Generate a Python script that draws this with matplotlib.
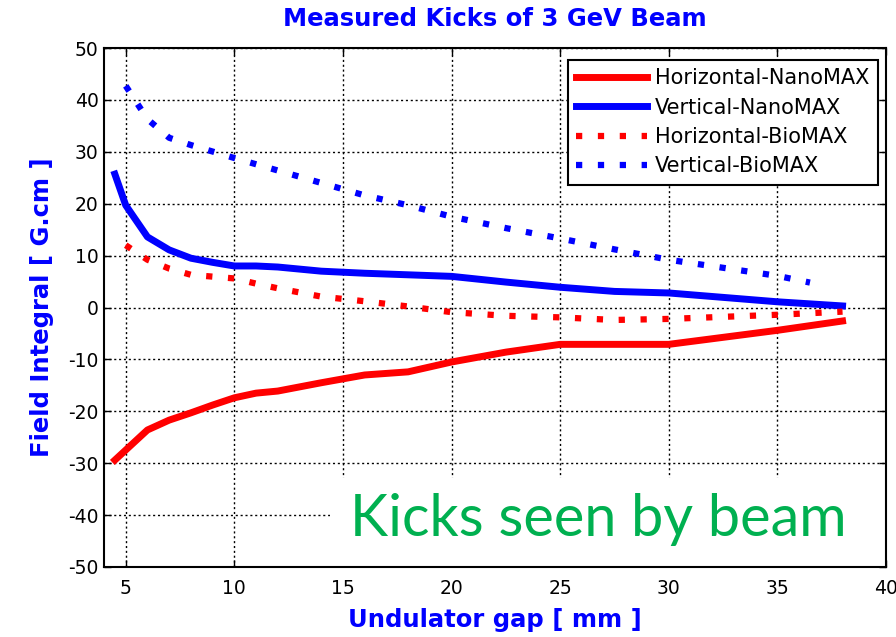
# measured kicks of 3 GeV beam vs undulator gap
import matplotlib
matplotlib.use('Agg')
import matplotlib.pyplot as plt
from matplotlib.patches import Rectangle

plt.rcParams['axes.unicode_minus'] = False

# undulator gap [mm] for each series
gap_hor_nano = [4.5, 6, 7, 8, 9, 10, 11, 12, 14, 16, 18, 20, 22.5, 25, 30, 35, 38]
gap_ver_nano = [4.5, 5, 6, 7, 8, 9, 10, 11, 12, 14, 16, 18, 20, 22.5, 25, 27.5, 30, 35, 38]
gap_hor_bio = [5, 6, 7, 8, 10, 11, 12, 14, 16, 18, 20, 22.5, 25, 27.5, 30, 35, 38]
gap_ver_bio = [5, 6, 7, 8, 10, 12, 14, 16, 18, 20, 22.5, 25, 27.5, 30, 35, 36.5]

# field integral [G.cm]
hor_nano = [-29.4, -23.6, -21.7, -20.3, -18.8, -17.4, -16.5, -16.1, -14.5, -13.0,
            -12.4, -10.5, -8.6, -7.1, -7.1, -4.4, -2.6]
ver_nano = [25.7, 19.7, 13.6, 11.1, 9.5, 8.7, 8.0, 8.0, 7.8, 7.0, 6.6, 6.3, 6.0,
            4.9, 3.9, 3.1, 2.8, 1.1, 0.3]
hor_bio = [12.0, 9.2, 7.5, 6.3, 5.6, 4.6, 3.7, 2.1, 1.2, 0.2, -0.9, -1.6, -1.9,
           -2.4, -2.2, -1.4, -0.8]
ver_bio = [42.7, 36.3, 32.7, 31.3, 28.8, 26.4, 24.0, 21.6, 19.7, 17.5, 15.3, 13.3,
           11.2, 9.2, 6.1, 4.8]

xticks = [5, 10, 15, 20, 25, 30, 35, 40]
yticks = [-50, -40, -30, -20, -10, 0, 10, 20, 30, 40, 50]

fig = plt.figure(figsize=(8.96, 6.37), dpi=100)
ax = fig.add_axes([104/896, 1 - 567/637, 782/896, 519/637])

dots = (0, (1, 2.5))
ax.plot(gap_hor_nano, hor_nano, color='red', lw=5, label='Horizontal-NanoMAX')
ax.plot(gap_ver_nano, ver_nano, color='blue', lw=5, label='Vertical-NanoMAX')
ax.plot(gap_hor_bio, hor_bio, color='red', lw=4.5, ls=dots, label='Horizontal-BioMAX')
ax.plot(gap_ver_bio, ver_bio, color='blue', lw=4.5, ls=dots, label='Vertical-BioMAX')

ax.set_xlim(4, 40)
ax.set_ylim(-50, 50)
ax.set_xticks(xticks)
ax.set_yticks(yticks)
ax.grid(True, color='black', ls=(0, (1.5, 2)), lw=1)
ax.set_axisbelow(True)
ax.tick_params(direction='in', top=True, right=True, length=5, width=1,
               labelsize=13.5, colors='black')
ax.tick_params(axis='x', pad=9)
ax.tick_params(axis='y', pad=4)
for s in ax.spines.values():
    s.set_linewidth(1.5)

ax.set_title('Measured Kicks of 3 GeV Beam', color='blue', fontweight='bold',
             fontsize=17.5, pad=16)
ax.set_xlabel('Undulator gap [ mm ]', color='blue', fontweight='bold',
              fontsize=17.5, labelpad=7)
ax.set_ylabel('Field Integral [ G.cm ]', color='blue', fontweight='bold',
              fontsize=17.5, labelpad=10)

leg = ax.legend(loc='upper right', bbox_to_anchor=(0.9898, 0.9769),
                borderaxespad=0, fontsize=15, fancybox=False, framealpha=1,
                edgecolor='black', handlelength=3.4, handletextpad=0.4,
                borderpad=0.4, labelspacing=0.45)
leg.get_frame().set_linewidth(1.5)

# white box behind the annotation hides the grid
ax.add_patch(Rectangle((0.289, 0), 0.711, 0.172, transform=ax.transAxes,
                       facecolor='white', edgecolor='none', zorder=1.5))
ax.text(0.3146, 0.0597, 'Kicks seen by beam', transform=ax.transAxes,
        color='#00b050', fontsize=41.5, family='Lato', va='baseline', zorder=3)

fig.savefig('out.png', dpi=100)
